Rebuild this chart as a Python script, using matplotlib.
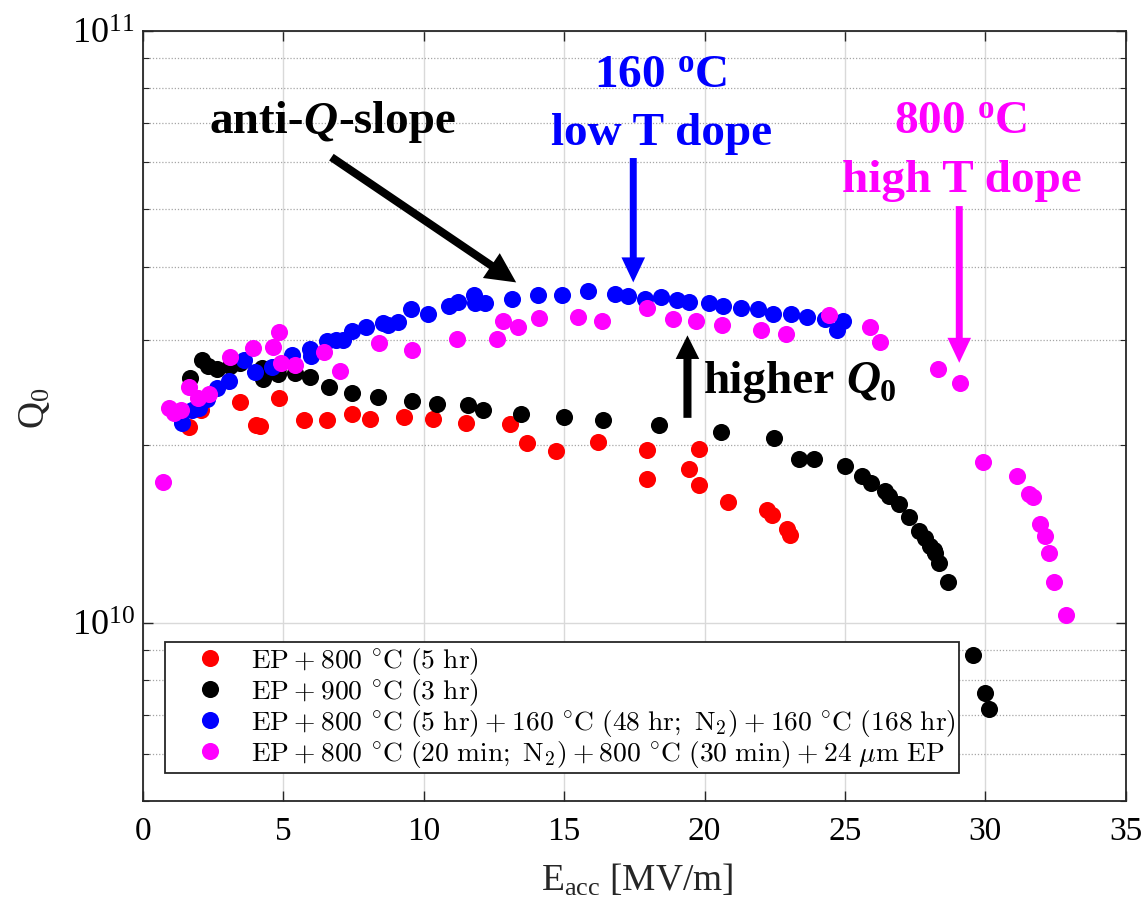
import matplotlib
matplotlib.use("Agg")
import matplotlib.pyplot as plt
import numpy as np
from matplotlib.ticker import LogLocator, NullFormatter

plt.rcParams['font.family'] = 'Liberation Serif'
plt.rcParams['mathtext.fontset'] = 'cm'

# Eacc [MV/m] and Q0 (in units of 1e10)
e_red = [1.64, 2.07, 3.46, 4.04, 4.18, 4.86, 5.75, 6.54, 7.43, 8.07, 9.29, 10.32, 11.50, 13.07,
         13.68, 14.71, 16.21, 17.96, 17.96, 19.46, 19.79, 19.79, 20.82, 22.21, 22.39, 22.93, 23.04]
q_red = [2.14, 2.29, 2.36, 2.16, 2.15, 2.40, 2.20, 2.20, 2.25, 2.21, 2.23, 2.21, 2.18, 2.17,
         2.01, 1.95, 2.02, 1.96, 1.75, 1.82, 1.97, 1.71, 1.60, 1.55, 1.52, 1.44, 1.41]

e_black = [1.68, 2.11, 2.32, 2.64, 3.11, 3.46, 4.25, 4.29, 4.79, 4.82, 5.43, 5.93, 6.64, 7.46, 8.36,
           9.57, 10.46, 11.57, 12.11, 13.46, 15.00, 16.39, 18.36, 20.57, 22.46, 23.36, 23.89, 25.00,
           25.61, 25.93, 26.43, 26.57, 26.93, 27.29, 27.64, 27.86, 28.04, 28.18, 28.21, 28.36, 28.68,
           29.57, 30.00, 30.14]
q_black = [2.59, 2.78, 2.72, 2.68, 2.72, 2.75, 2.69, 2.58, 2.69, 2.63, 2.64, 2.60, 2.50, 2.45, 2.41,
           2.37, 2.34, 2.33, 2.29, 2.25, 2.23, 2.20, 2.16, 2.10, 2.05, 1.89, 1.89, 1.84,
           1.77, 1.72, 1.67, 1.64, 1.59, 1.51, 1.43, 1.39, 1.35, 1.33, 1.31, 1.26, 1.17,
           0.883, 0.761, 0.715]

e_blue = [1.39, 1.75, 2.00, 2.29, 2.64, 3.07, 3.61, 4.00, 4.61, 5.32, 5.93, 6.00, 6.57, 6.86, 7.11,
          7.43, 7.93, 8.54, 8.71, 9.07, 9.54, 10.14, 10.89, 11.21, 11.79, 11.82, 12.18, 13.14, 14.07,
          14.93, 15.86, 16.82, 17.29, 17.89, 18.43, 19.00, 19.46, 20.14, 20.64, 21.29, 21.89, 22.43,
          23.07, 23.64, 24.29, 24.71, 24.93]
q_blue = [2.18, 2.29, 2.31, 2.39, 2.49, 2.56, 2.78, 2.65, 2.71, 2.83, 2.90, 2.82, 2.99, 3.00, 3.01,
          3.11, 3.16, 3.21, 3.19, 3.22, 3.39, 3.33, 3.43, 3.48, 3.58, 3.47, 3.47, 3.52, 3.58,
          3.58, 3.63, 3.59, 3.56, 3.53, 3.55, 3.51, 3.48, 3.47, 3.43, 3.41, 3.39, 3.33,
          3.32, 3.29, 3.26, 3.12, 3.23]

e_mag = [0.71, 0.93, 1.11, 1.36, 1.64, 1.96, 2.36, 3.11, 3.93, 4.64, 4.86, 4.93, 5.43, 6.43, 7.00,
         8.39, 9.57, 11.18, 12.61, 12.82, 13.36, 14.11, 15.50, 16.36, 17.96, 18.86, 19.71, 20.61,
         22.00, 22.89, 24.43, 25.89, 26.25, 28.32, 29.11, 29.93, 31.14, 31.57, 31.68, 31.93, 32.14,
         32.25, 32.46, 32.86]
q_mag = [1.73, 2.31, 2.26, 2.29, 2.50, 2.40, 2.44, 2.81, 2.91, 2.92, 3.10, 2.75, 2.73, 2.87, 2.66,
         2.97, 2.89, 3.02, 3.02, 3.24, 3.16, 3.28, 3.29, 3.24, 3.41, 3.26, 3.24, 3.19,
         3.13, 3.08, 3.31, 3.16, 2.98, 2.68, 2.54, 1.87, 1.77, 1.65, 1.63, 1.47, 1.40,
         1.31, 1.17, 1.03]

P = r'\:+\:'
DEG = r'\ {}^{\circ}\mathrm{C}\ '
labels = [
    r'$\mathrm{EP}' + P + '800' + DEG + r'(5\ \mathrm{hr})$',
    r'$\mathrm{EP}' + P + '900' + DEG + r'(3\ \mathrm{hr})$',
    r'$\mathrm{EP}' + P + '800' + DEG + r'(5\ \mathrm{hr})' + P + '160' + DEG
    + r'(48\ \mathrm{hr};\ \mathrm{N}_2)' + P + '160' + DEG + r'(168\ \mathrm{hr})$',
    r'$\mathrm{EP}' + P + '800' + DEG + r'(20\ \mathrm{min};\ \mathrm{N}_2)' + P + '800' + DEG
    + r'(30\ \mathrm{min})' + P + r'24\ \mu\mathrm{m\ EP}$',
]
colors = ['#ff0000', '#000000', '#0000ff', '#ff00ff']

fig = plt.figure(figsize=(11.45, 9.06), dpi=100)
ax = fig.add_axes([0.1249, 0.1159, 0.8583, 0.8499])

series = [(e_red, q_red), (e_black, q_black), (e_blue, q_blue), (e_mag, q_mag)]
for (e, q), c, lab in zip(series, colors, labels):
    ax.plot(e, np.array(q) * 1e10, 'o', color=c, ms=12.3, mew=0, label=lab, zorder=3)

ax.set_yscale('log')
ax.set_xlim(0, 35)
ax.set_ylim(5e9, 1e11)
ax.set_xticks(range(0, 36, 5))
ax.yaxis.set_major_locator(LogLocator(base=10, numticks=10))
ax.yaxis.set_minor_locator(LogLocator(base=10, subs=np.arange(2, 10), numticks=10))
ax.yaxis.set_minor_formatter(NullFormatter())

ax.set_axisbelow(True)
ax.grid(True, which='major', axis='both', color='0.85', lw=1.0, ls='-')
ax.grid(True, which='minor', axis='y', color='0.65', lw=0.9, ls=(0, (1, 1.5)))

ax.tick_params(which='both', direction='in', top=True, right=True, color='0.15')
ax.tick_params(which='major', length=7, width=1.0)
ax.tick_params(which='minor', length=4, width=0.8)
ax.tick_params(axis='x', pad=11, labelsize=24)
ax.tick_params(axis='y', pad=6, labelsize=26)
for s in ax.spines.values():
    s.set_color('0.15')
    s.set_linewidth(1.3)

ax.set_xlabel(r'$\mathdefault{E_{acc}}$ [MV/m]', fontsize=27, color='0.15')
ax.xaxis.set_label_coords(0.503, -0.08)
ax.set_ylabel(r'$\mathdefault{Q_0}$', fontsize=27, color='0.15')
ax.yaxis.set_label_coords(-0.093, 0.51)

leg = ax.legend(loc='lower left', bbox_to_anchor=(0.0224, 0.0364), borderaxespad=0,
                fontsize=19.8, fancybox=False, edgecolor='0.15', framealpha=1,
                handlelength=3.0, handletextpad=0.0, labelspacing=0.0, borderpad=0.12,
                numpoints=1)
leg.get_frame().set_linewidth(1.3)


def arrow(start, tip, color, tail, hw, hl):
    ax.annotate('', xy=tip, xytext=start,
                arrowprops=dict(arrowstyle=f'simple,head_length={hl},head_width={hw},tail_width={tail}',
                                mutation_scale=1, color=color, lw=0, shrinkA=0, shrinkB=0))


fs = 34
# anti-Q-slope
t1 = ax.text(2.36, 6.72e10, 'anti-', fontsize=fs, fontweight='bold', va='baseline', ha='left')
t2 = ax.annotate('Q', xy=(1, 0), xycoords=t1, va='bottom', ha='left', fontsize=fs,
                 fontweight='bold', fontstyle='italic')
ax.annotate('-slope', xy=(1, 0), xycoords=t2, va='bottom', ha='left', fontsize=fs, fontweight='bold')
arrow((6.71, 6.12e10), (13.29, 3.76e10), 'black', 5.8, 21.6, 21.6)

# low T dope
ax.text(18.43, 8.04e10, r'160 $\mathdefault{^o}$C', fontsize=fs, fontweight='bold',
        color='#0000ff', ha='center', va='baseline')
ax.text(18.46, 6.41e10, 'low T dope', fontsize=fs, fontweight='bold',
        color='#0000ff', ha='center', va='baseline')
arrow((17.46, 6.10e10), (17.46, 3.76e10), '#0000ff', 5.0, 17, 18)

# high T dope
ax.text(29.1, 6.72e10, r'800 $\mathdefault{^o}$C', fontsize=fs, fontweight='bold',
        color='#ff00ff', ha='center', va='baseline')
ax.text(29.18, 5.34e10, 'high T dope', fontsize=fs, fontweight='bold',
        color='#ff00ff', ha='center', va='baseline')
arrow((29.07, 5.06e10), (29.07, 2.75e10), '#ff00ff', 5.0, 17, 18)

# higher Q0
h1 = ax.text(19.96, 2.45e10, 'higher', fontsize=fs, fontweight='bold', va='baseline', ha='left')
h2 = ax.annotate('Q', xy=(1, 0), xycoords=h1, xytext=(8, 0), textcoords='offset points',
                 va='bottom', ha='left', fontsize=fs, fontweight='bold', fontstyle='italic')
ax.annotate('0', xy=(1, 0), xycoords=h2, xytext=(0, -4), textcoords='offset points',
            va='bottom', ha='left', fontsize=23, fontweight='bold')
arrow((19.39, 2.22e10), (19.39, 3.06e10), 'black', 5.8, 17, 17)

fig.savefig('out.png', dpi=100, facecolor='white')
